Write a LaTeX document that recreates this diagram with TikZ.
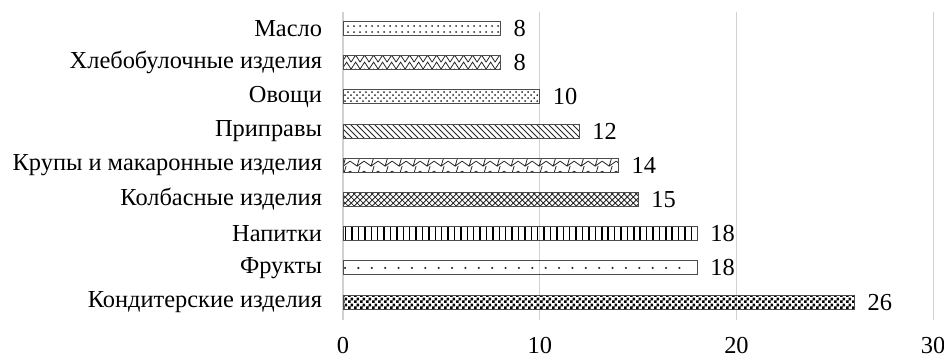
\documentclass[tikz,border=0pt]{standalone}
\usepackage{fontspec}
\setmainfont{Liberation Serif}
\usetikzlibrary{patterns}

\pgfdeclarepatternformonly{zigzag}{\pgfqpoint{-1pt}{-1pt}}{\pgfqpoint{5.5pt}{4.5pt}}{\pgfqpoint{4.5pt}{3.5pt}}{
  \pgfsetlinewidth{0.4pt}
  \pgfpathmoveto{\pgfqpoint{0pt}{0pt}}
  \pgfpathlineto{\pgfqpoint{2.25pt}{3.5pt}}
  \pgfpathlineto{\pgfqpoint{4.5pt}{0pt}}
  \pgfusepath{stroke}
}
\pgfdeclarepatternformonly{bigzigzag}{\pgfqpoint{-1pt}{-1pt}}{\pgfqpoint{8pt}{6pt}}{\pgfqpoint{7pt}{5pt}}{
  \pgfsetlinewidth{0.4pt}
  \pgfpathmoveto{\pgfqpoint{0pt}{2.5pt}}
  \pgfpathlineto{\pgfqpoint{3.5pt}{0pt}}
  \pgfpathlineto{\pgfqpoint{7pt}{2.5pt}}
  \pgfpathmoveto{\pgfqpoint{3.5pt}{0pt}}
  \pgfpathlineto{\pgfqpoint{5pt}{5pt}}
  \pgfusepath{stroke}
}
\pgfdeclarepatternformonly{smallchecker}{\pgfqpoint{0pt}{0pt}}{\pgfqpoint{3pt}{3pt}}{\pgfqpoint{3pt}{3pt}}{
  \pgfpathrectangle{\pgfqpoint{0pt}{0pt}}{\pgfqpoint{1.5pt}{1.5pt}}
  \pgfpathrectangle{\pgfqpoint{1.5pt}{1.5pt}}{\pgfqpoint{1.5pt}{1.5pt}}
  \pgfusepath{fill}
}
\pgfdeclarepatternformonly{thickvertical}{\pgfqpoint{-1pt}{-1pt}}{\pgfqpoint{4.2pt}{4pt}}{\pgfqpoint{3.2pt}{3pt}}{
  \pgfsetlinewidth{0.75pt}
  \pgfpathmoveto{\pgfqpoint{0pt}{-1pt}}
  \pgfpathlineto{\pgfqpoint{0pt}{4pt}}
  \pgfusepath{stroke}
}

\begin{document}
\begin{tikzpicture}[x=9.833pt,y=17.1pt,font=\fontsize{12.2}{14}\selectfont]
\tikzset{
  bar/.style={draw=black!70,line width=0.5pt,pattern color=black!85},
  grid line/.style={draw=black!18,line width=0.6pt},
  cat/.style={anchor=east,inner sep=0pt},
  val/.style={anchor=west,inner sep=0pt}
}
\useasboundingbox (-17.44,-1.579) rectangle (30.55,8.833);

% grid
\draw[grid line] (0,-0.526) -- (0,8.48);
\draw[grid line] (10,-0.526) -- (10,8.48);
\draw[grid line] (20,-0.526) -- (20,8.48);
\draw[grid line] (30,-0.526) -- (30,8.48);

% bars
\draw[bar,pattern=smallchecker,pattern color=black] (0,-0.205) rectangle (26,0.205);
\draw[bar] (0,0.795) rectangle (18,1.205);
\foreach \x in {0.1,0.78,...,17.6} \fill[black!85] (\x,1) circle (0.6pt);
\draw[bar,pattern=thickvertical,pattern color=black] (0,1.795) rectangle (18,2.205);
\draw[bar,pattern=crosshatch] (0,2.795) rectangle (15,3.205);
\draw[bar,pattern=bigzigzag] (0,3.795) rectangle (14,4.205);
\draw[bar,pattern=north west lines] (0,4.795) rectangle (12,5.205);
\draw[bar,pattern=crosshatch dots] (0,5.795) rectangle (10,6.205);
\draw[bar,pattern=zigzag] (0,6.795) rectangle (8,7.205);
\draw[bar,pattern=dots] (0,7.795) rectangle (8,8.205);

% categories
\node[cat] (konditer) at (-1.05,0) {Кондитерские изделия};
\node[cat] (frukty) at (-1.05,1) {Фрукты};
\node[cat] (napitki) at (-1.05,2) {Напитки};
\node[cat] (kolbasa) at (-1.05,3) {Колбасные изделия};
\node[cat] (krupy) at (-1.05,4) {Крупы и макаронные изделия};
\node[cat] (pripravy) at (-1.05,5) {Приправы};
\node[cat] (ovoshchi) at (-1.05,6) {Овощи};
\node[cat] (khleb) at (-1.05,7) {Хлебобулочные изделия};
\node[cat] (maslo) at (-1.05,8) {Масло};

% values
\node[val] (v26) at (26.65,0) {26};
\node[val] (v18a) at (18.65,1) {18};
\node[val] (v18b) at (18.65,2) {18};
\node[val] (v15) at (15.65,3) {15};
\node[val] (v14) at (14.65,4) {14};
\node[val] (v12) at (12.65,5) {12};
\node[val] (v10) at (10.65,6) {10};
\node[val] (v8a) at (8.65,7) {8};
\node[val] (v8b) at (8.65,8) {8};

% axis
\node (t0) at (0,-1.258) {0};
\node (t10) at (10,-1.258) {10};
\node (t20) at (20,-1.258) {20};
\node (t30) at (30,-1.258) {30};
\end{tikzpicture}
\end{document}
